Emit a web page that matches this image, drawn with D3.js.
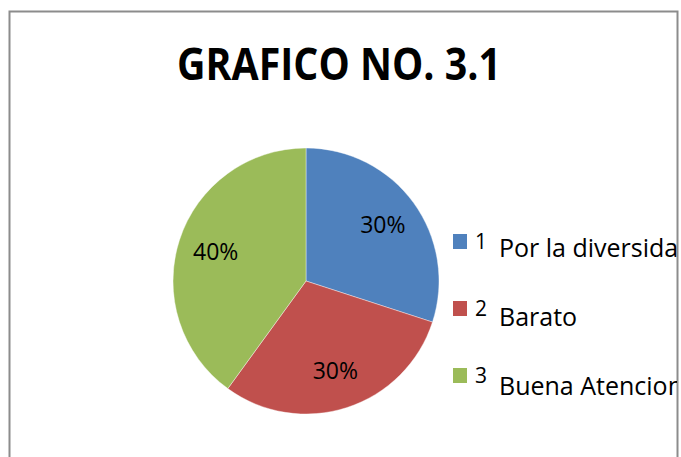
<!DOCTYPE html>
<html>
<head>
<meta charset="utf-8">
<script src="https://cdn.jsdelivr.net/npm/d3@7"></script>
<style>
  body { margin: 0; background: #fff; }
  text { font-family: "Open Sans", sans-serif; }
</style>
</head>
<body>
<svg id="chart"></svg>
<script>
const width = 681;
const height = 457;

const title = 'GRAFICO NO. 3.1';
const codes = ['1', '2', '3'];
const categories = ['Por la diversidad', 'Barato', 'Buena Atencion'];
const values = [30, 30, 40];
const colors = ['#4F81BD', '#C0504D', '#9BBB59'];

const cx = 306, cy = 281, radius = 133;

const svg = d3.select('#chart')
            .attr('width', width)
            .attr('height', height);

// chart area frame, text that overflows gets clipped by it
svg.append('clipPath').attr('id', 'frame')
    .append('rect').attr('x', 9).attr('y', 11).attr('width', 668).attr('height', 460);

svg.append('rect')
    .attr('x', 9.5).attr('y', 11.5)
    .attr('width', 668).attr('height', 460)
    .attr('fill', '#fff')
    .attr('stroke', '#8c8c8c')
    .attr('stroke-width', 2);

const g = svg.append('g').attr('clip-path', 'url(#frame)');

g.append('text')
    .attr('x', 339)
    .attr('y', 80)
    .attr('text-anchor', 'middle')
    .attr('font-size', 44)
    .attr('font-weight', 'bold')
    .attr('textLength', 324)
    .attr('lengthAdjust', 'spacingAndGlyphs')
    .text(title);

const data = categories.map((c, i) => ({ code: codes[i], name: c, value: values[i], color: colors[i] }));
const total = d3.sum(values);

const pie = d3.pie().sort(null).value(d => d.value);
const arc = d3.arc().innerRadius(0).outerRadius(radius);
const labelArc = d3.arc().innerRadius(95).outerRadius(95);

const pieG = g.append('g').attr('transform', `translate(${cx},${cy})`);

pieG.selectAll('path').data(pie(data)).enter().append('path')
    .attr('d', arc)
    .attr('fill', d => d.data.color)
    .attr('stroke', '#fff')
    .attr('stroke-width', 0.4);

pieG.selectAll('text').data(pie(data)).enter().append('text')
    .attr('x', d => labelArc.centroid(d)[0])
    .attr('y', d => labelArc.centroid(d)[1] + 8)
    .attr('text-anchor', 'middle')
    .attr('font-size', 23)
    .attr('fill', '#000')
    .text(d => Math.round(d.data.value / total * 100) + '%');

// legend
const legendY = d3.scaleLinear().domain([0, 2]).range([234, 368]);

const legend = g.selectAll('.legend').data(data).enter().append('g')
    .attr('class', 'legend')
    .attr('transform', (d, i) => `translate(453,${legendY(i)})`);

legend.append('rect')
    .attr('width', 14)
    .attr('height', 15)
    .attr('fill', d => d.color);

legend.append('text')
    .attr('x', 22)
    .attr('y', 15)
    .attr('font-size', 21)
    .text(d => d.code);

legend.append('text')
    .attr('x', 46)
    .attr('y', (d, i) => 23 + 2 * i)
    .attr('font-size', 25)
    .text(d => d.name);
</script>
</body>
</html>
